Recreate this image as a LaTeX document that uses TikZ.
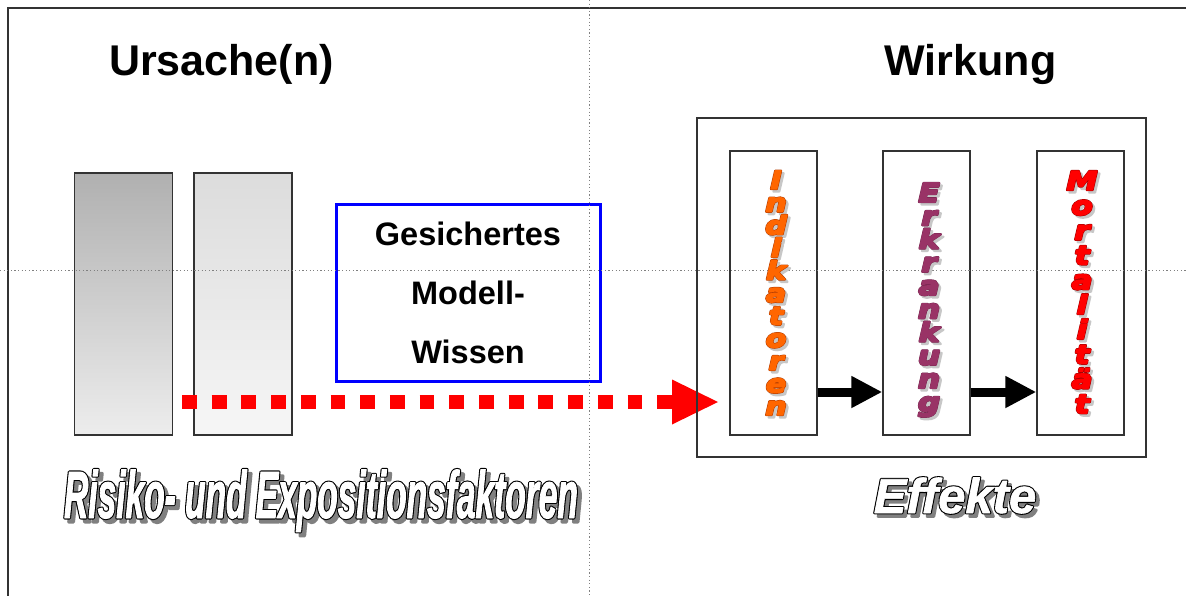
\documentclass[tikz,border=0pt]{standalone}
\usepackage{fontspec}
\setmainfont{Liberation Sans}
\newfontfamily\wfont{DejaVu Sans}[FakeStretch=1.2]
\newfontfamily\narrowfont{Liberation Sans}[FakeStretch=0.5]
\usepackage{graphicx}
\usetikzlibrary{arrows.meta}
\definecolor{orangeF}{HTML}{FF6600}
\definecolor{orangeL}{HTML}{B33C00}
\definecolor{plumF}{HTML}{993366}
\definecolor{plumL}{HTML}{6E2249}
\definecolor{redF}{HTML}{FF0000}
\definecolor{redL}{HTML}{A00000}
\definecolor{frameC}{HTML}{333333}
\definecolor{barAtop}{HTML}{B0B0B0}
\definecolor{barAbot}{HTML}{EDEDED}
\definecolor{barBtop}{HTML}{DCDCDC}
\definecolor{barBbot}{HTML}{F6F6F6}
% stroked text: #1 stroke width (bp), #2 text
\newcommand\strk[2]{\special{pdf:literal direct 2 Tr #1 w 1 j}#2\special{pdf:literal direct 0 Tr}}
% #1 fill, #2 outline, #3 shadow colour, #4 shadow offset, #5 outline width, #6 fill stroke width, #7 text
\newcommand\fx[7]{\leavevmode
  \rlap{\kern#4\raisebox{-#4}{\textcolor{#3}{\strk{#5}{#7}}}}%
  \rlap{\textcolor{#2}{\strk{#5}{#7}}}%
  \textcolor{#1}{\strk{#6}{#7}}}
\begin{document}
\begin{tikzpicture}[x=1pt,y=-1pt,
  frameline/.style={draw=frameC, line width=1.5pt},
  guide/.style={draw=gray, line width=0.8pt, dash pattern=on 1.2pt off 2.4pt},
  title/.style={inner sep=0, anchor=base, font=\bfseries\fontsize{43}{43}\selectfont},
  graybar/.style={draw=frameC, line width=1.2pt, minimum width=98pt, minimum height=262pt, inner sep=0},
  bluebox/.style={draw=blue, line width=3pt, minimum width=264pt, minimum height=176pt, align=center, inner sep=0, font=\bfseries\fontsize{32.5}{59}\selectfont},
  effbox/.style={draw=frameC, line width=1.4pt, minimum width=87pt, minimum height=284pt, inner sep=0},
  outerbox/.style={draw=frameC, line width=1.6pt, minimum width=449pt, minimum height=339pt, inner sep=0},
  reddash/.style={draw=red, line width=14pt, dash pattern=on 14.85pt off 14.85pt},
  blackarrow/.style={draw=black, line width=9pt, -{Triangle[length=31pt,width=30pt]}},
  vl/.style={inner sep=0, anchor=base, font=\wfont\bfseries\itshape\fontsize{25}{25}\selectfont},
  vlb/.style={inner sep=0, anchor=base, font=\wfont\bfseries\itshape\fontsize{26}{26}\selectfont},
  bigtext/.style={inner sep=0, anchor=base},
]
\useasboundingbox (0,0) rectangle (1186,596);
\fill[white] (0,0) rectangle (1186,596);
% frame
\coordinate (fTL) at (8,8);
\coordinate (fTR) at (1186,8);
\coordinate (fBL) at (8,596);
\draw[frameline] (fBL) -- (fTL) -- (fTR);

% titles
\node[title] (ursache) at (221.5,76) {Ursache(n)};
\node[title] (wirkung) at (970.5,76) {Wirkung};

% gray bars
\node[graybar, top color=barAtop, bottom color=barAbot] (barA) at (123.5,304) {};
\node[graybar, top color=barBtop, bottom color=barBbot] (barB) at (243,304) {};

% red dotted arrow
\coordinate (rs) at (182,402);
\coordinate (re) at (672,402);
\draw[reddash] (rs) -- (re);
\fill[red] (re) ++(0,-22.5) -- ++(46,22.5) -- ++(-46,22.5) -- cycle;

% effect boxes
\node[outerbox] (outer) at (921.5,287.5) {};
\node[effbox] (ind) at (773.5,293) {};
\node[effbox] (erk) at (926.5,293) {};
\node[effbox] (mor) at (1080.5,293) {};
\coordinate (ay) at (0,392);
\draw[blackarrow] (ind.east |- ay) -- (erk.west |- ay);
\draw[blackarrow] (erk.east |- ay) -- (mor.west |- ay);

% blue box
\node[bluebox] (wissen) at (468,293) {Gesichertes\\Modell-\\Wissen};

% guides
\coordinate (gT) at (589,0);
\coordinate (gB) at (589,596);
\coordinate (gL) at (0,270);
\coordinate (gR) at (1186,270);
\draw[guide] (gT) -- (gB);
\draw[guide] (gL) -- (gR);

% vertical words
\foreach \ch [count=\i from 0] in {I,n,d,i,k,a,t,o,r,e,n}
  \node[vl] (indl\i) at (776,{189+22.6*\i}) {\fx{orangeF}{orangeL}{black!22}{2.5pt}{2.4}{1.4}{\ch}};
\foreach \ch [count=\i from 0] in {E,r,k,r,a,n,k,u,n,g}
  \node[vlb] (erkl\i) at (929,{202+23.25*\i}) {\fx{plumF}{plumL}{black!22}{2.5pt}{2.2}{1.6}{\ch}};
\foreach \ch [count=\i from 0] in {M,o,r,t,a,l,i,t,ä,t}
  \node[vlb] (morl\i) at (1082,{190+24.8*\i}) {\fx{redF}{redL}{black!22}{2.5pt}{2.4}{1.4}{\ch}};

% big labels
\node[bigtext, font=\narrowfont\bfseries\itshape\fontsize{67}{67}\selectfont] (risiko) at (321,518)
  {\fx{white}{black}{black!50}{4pt}{3.0}{0.8}{Risiko- und Expositionsfaktoren}};
\node[bigtext, font=\bfseries\itshape\fontsize{49}{49}\selectfont] (effekte) at (955,513)
  {\fx{white}{black}{black!50}{3.5pt}{2.8}{0.6}{Effekte}};
\end{tikzpicture}
\end{document}
